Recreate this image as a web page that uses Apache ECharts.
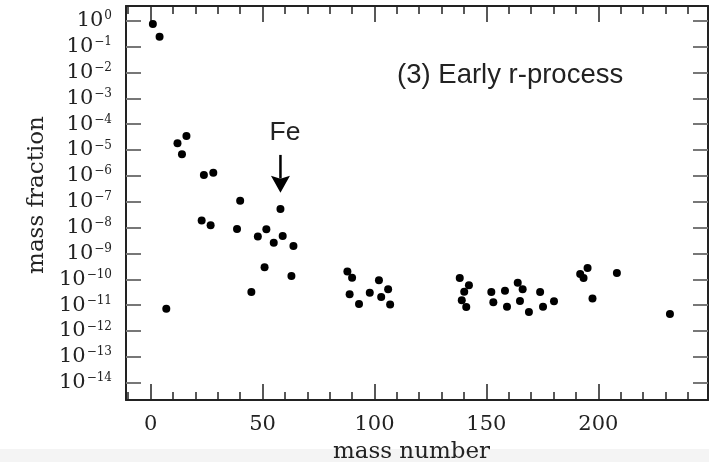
<!DOCTYPE html>
<html><head><meta charset="utf-8">
<script src="https://cdn.jsdelivr.net/npm/echarts@6/dist/echarts.min.js"></script>
<style>html,body{margin:0;padding:0;background:#fff}#c{width:709px;height:462px}</style>
</head><body><div id="c"></div>
<script>
// mass number (A) of each isotope
const massNumber = [1,4,7,12,14,16,22.8,23.8,26.8,28,38.6,40,45,47.9,50.9,51.7,55,58,59,62.9,63.8,
  87.9,88.9,90,93.1,97.9,102,103,106.1,107,138.1,139,140.1,141,142.2,152.2,153.1,158.3,159.2,
  164,165,166.2,169,174,175.3,180.2,191.9,193.4,195.2,197.4,208.3,232];
// log10 of the mass fraction
const log10MassFraction = [-0.13,-0.62,-11.14,-4.74,-5.16,-4.46,-7.73,-5.97,-7.91,-5.88,-8.06,-6.96,-10.49,-8.35,-9.54,-8.07,-8.59,-7.28,-8.33,-9.87,-8.71,
  -9.70,-10.58,-9.94,-10.96,-10.52,-10.04,-10.69,-10.39,-10.98,-9.95,-10.81,-10.48,-11.07,-10.23,-10.49,-10.89,-10.44,-11.06,
  -10.13,-10.84,-10.39,-11.27,-10.49,-11.06,-10.85,-9.80,-9.95,-9.56,-10.74,-9.76,-11.34];
const xMajorTicks = [0,50,100,150,200];
const xMinorTicks = [-10,10,20,30,40,60,70,80,90,110,120,130,140,160,170,180,190,210,220,230,240];
const yDecades = [-14,-13,-12,-11,-10,-9,-8,-7,-6,-5,-4,-3,-2,-1,0];
const xRange = [-11, 249];
const yRange = [-14.67, 0.57];
const panelTitle = '(3) Early r-process';
const panelTitlePos = [160.6, -2.13];
const feLabel = 'Fe';
const feLabelPos = [60, -4.33];
const feArrow = {x: 58, top: -5.19, headBase: -6.03, tip: -6.65};

const serif = 'DejaVu Serif';
const chart = echarts.init(document.getElementById('c'), null, {renderer: 'canvas'});

function xAxisDef(pos, ticks, len, labels, line) {
  return {
    type: 'value', position: pos, min: xRange[0], max: xRange[1], gridIndex: 0,
    axisLine: {show: line, onZero: false, lineStyle: {color: '#222', width: 2}},
    axisTick: {show: true, inside: true, length: len, customValues: ticks, lineStyle: {color: '#222', width: 1.5}},
    axisLabel: labels ? {show: true, customValues: ticks, margin: 14, fontFamily: serif, fontSize: 21, color: '#222'} : {show: false},
    splitLine: {show: false}
  };
}

const xAxes = [
  Object.assign(xAxisDef('bottom', xMajorTicks, 16, true, true), {
    name: 'mass number', nameLocation: 'middle', nameGap: 52,
    nameTextStyle: {fontFamily: serif, fontSize: 23, color: '#222', verticalAlign: 'middle', padding: [0, 11, 0, 0]}
  }),
  xAxisDef('bottom', xMinorTicks, 8, false, false),
  xAxisDef('top', xMajorTicks, 16, false, true),
  xAxisDef('top', xMinorTicks, 8, false, false)
];

const yAxes = [
  {
    type: 'value', position: 'left', min: yRange[0], max: yRange[1], gridIndex: 0,
    name: 'mass fraction', nameLocation: 'middle', nameGap: 88, nameRotate: 90,
    nameTextStyle: {fontFamily: serif, fontSize: 23, color: '#222', verticalAlign: 'middle', padding: [0, 0, 0, 16]},
    axisLine: {show: true, onZero: false, lineStyle: {color: '#222', width: 2}},
    axisTick: {show: true, inside: true, length: 15, customValues: yDecades, lineStyle: {color: '#777', width: 2}},
    axisLabel: {
      show: true, customValues: yDecades, margin: 14,
      formatter: v => '{b|10}{e|' + (v === 0 ? '0' : '\u2212' + (-v)) + '}',
      rich: {
        b: {fontFamily: serif, fontSize: 21, lineHeight: 21, color: '#222'},
        e: {fontFamily: serif, fontSize: 12, lineHeight: 16, verticalAlign: 'top', color: '#222', padding: [0, 0, 0, 1]}
      }
    },
    splitLine: {show: false}
  },
  {
    type: 'value', position: 'right', min: yRange[0], max: yRange[1], gridIndex: 0,
    axisLine: {show: true, onZero: false, lineStyle: {color: '#222', width: 2}},
    axisTick: {show: true, inside: true, length: 15, customValues: yDecades, lineStyle: {color: '#777', width: 2}},
    axisLabel: {show: false},
    splitLine: {show: false}
  }
];

chart.setOption({
  animation: false,
  backgroundColor: '#fff',
  grid: {left: 126, right: 1, top: 6, bottom: 62, containLabel: false, outerBoundsMode: 'none'},
  xAxis: xAxes,
  yAxis: yAxes,
  series: [{
    type: 'scatter', xAxisIndex: 0, yAxisIndex: 0,
    symbol: 'circle', symbolSize: 8,
    itemStyle: {color: '#000', opacity: 1},
    emphasis: {disabled: true},
    data: massNumber.map((a, i) => [a, log10MassFraction[i]])
  }]
});

const P = (x, y) => chart.convertToPixel({xAxisIndex: 0, yAxisIndex: 0}, [x, y]);
const tp = P(panelTitlePos[0], panelTitlePos[1]);
const fp = P(feLabelPos[0], feLabelPos[1]);
const aTop = P(feArrow.x, feArrow.top);
const aBase = P(feArrow.x, feArrow.headBase);
const aTip = P(feArrow.x, feArrow.tip);

chart.setOption({
  graphic: [
    {type: 'rect', z: -10, silent: true, shape: {x: 0, y: 449, width: 709, height: 13}, style: {fill: '#f4f4f4'}},
    {type: 'text', x: tp[0], y: tp[1], style: {text: panelTitle, font: '27.5px "Liberation Sans", Arial, sans-serif', fill: '#222', align: 'center', verticalAlign: 'middle'}},
    {type: 'text', x: fp[0], y: fp[1], style: {text: feLabel, font: '26.5px "Liberation Sans", Arial, sans-serif', fill: '#222', align: 'center', verticalAlign: 'middle'}},
    {type: 'line', shape: {x1: aTop[0], y1: aTop[1], x2: aBase[0], y2: aBase[1] + 2}, style: {stroke: '#000', lineWidth: 2.5}},
    {type: 'polygon', shape: {points: [[aBase[0] - 9.5, aBase[1] - 1], [aBase[0], aBase[1] + 2], [aBase[0] + 9.5, aBase[1] - 1], [aTip[0], aTip[1]]]}, style: {fill: '#000'}}
  ]
});
</script></body></html>
